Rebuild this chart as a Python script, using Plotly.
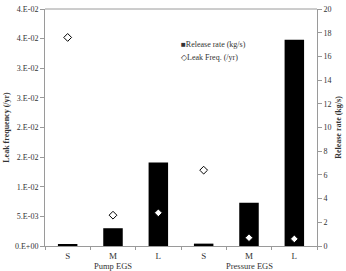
import plotly.graph_objects as go

groups = ["Pump EGS"] * 3 + ["Pressure EGS"] * 3
sizes = ["S", "M", "L", "S", "M", "L"]
release_rate = [0.1, 1.5, 7.05, 0.2, 3.65, 17.4]
leak_freq = [0.0352, 0.0052, 0.0056, 0.0128, 0.0014, 0.0012]

left_ticks = [0, 0.005, 0.01, 0.015, 0.02, 0.025, 0.03, 0.035, 0.04]
left_ticktext = ["0.E+00", "5.E-03", "1.E-02", "2.E-02", "2.E-02", "3.E-02", "3.E-02", "4.E-02", "4.E-02"]
right_ticks = [0, 2, 4, 6, 8, 10, 12, 14, 16, 18, 20]

bar_name = "Release rate (kg/s)"
freq_name = "Leak Freq. (/yr)"

font = "Liberation Serif"
grey = "#9a9a9a"
txt = "#333"

xpos = list(range(len(sizes)))

fig = go.Figure()
fig.add_trace(go.Bar(
    x=xpos, y=release_rate, name=bar_name,
    marker=dict(color="black", line=dict(width=0)), width=0.43, yaxis="y",
))
fig.add_trace(go.Scatter(
    x=xpos, y=leak_freq, name=freq_name, mode="markers",
    marker=dict(symbol="diamond", size=6, color="white", line=dict(color="black", width=1)),
    yaxis="y2",
))

# group labels centred under their categories
group_annots = []
seen = []
for g in groups:
    if g not in seen:
        seen.append(g)
for g in seen:
    idx = [i for i, gg in enumerate(groups) if gg == g]
    group_annots.append(dict(text=g, xref="x", yref="paper", x=sum(idx) / len(idx), y=(246 - 266) / 241,
                             xanchor="center", yanchor="middle", showarrow=False,
                             font=dict(size=8.5, family=font, color=txt)))

fig.update_layout(
    width=346, height=271,
    margin=dict(l=44, r=26, t=5, b=25),
    paper_bgcolor="white", plot_bgcolor="white",
    font=dict(family=font, size=9, color=txt),
    showlegend=False,
    xaxis=dict(range=[-0.5, len(sizes) - 0.5], tickvals=xpos, ticktext=sizes, showline=True,
               linecolor=grey, ticks="", ticklabelstandoff=1,
               minor=dict(tickvals=[i - 0.5 for i in range(len(sizes) + 1)], ticks="outside",
                          ticklen=3, tickcolor=grey, showgrid=False),
               tickfont=dict(size=9, family=font, color=txt),
               showgrid=False, zeroline=False, fixedrange=True),
    yaxis=dict(side="right", range=[0, 20], tickvals=right_ticks, showline=True,
               linecolor=grey, ticks="outside", tickcolor=grey, ticklen=4,
               showgrid=False, zeroline=False, tickfont=dict(size=8, family=font, color=txt),
               title=dict(text="<b>" + bar_name + "</b>", font=dict(size=8, family=font, color=txt), standoff=4)),
    yaxis2=dict(side="left", overlaying="y", range=[0, 0.04], tickvals=left_ticks,
                ticktext=left_ticktext, showline=True, linecolor=grey, ticks="outside",
                tickcolor=grey, ticklen=4, showgrid=False, zeroline=False,
                tickfont=dict(size=8, family=font, color=txt),
                title=dict(text="<b>Leak frequency (/yr)</b>", font=dict(size=8, family=font, color=txt), standoff=4)),
    shapes=[dict(type="line", xref="paper", yref="paper", x0=0, x1=1, y0=1, y1=1,
                 line=dict(color=grey, width=1))],
    annotations=[
        dict(text="■" + bar_name, xref="paper", yref="paper", x=(180 - 44) / 276, y=(246 - 41) / 241,
             xanchor="left", yanchor="middle", showarrow=False, font=dict(size=8, family=font, color=txt)),
        dict(text="◇" + freq_name, xref="paper", yref="paper", x=(180 - 44) / 276, y=(246 - 54) / 241,
             xanchor="left", yanchor="middle", showarrow=False, font=dict(size=8, family=font, color=txt)),
    ] + group_annots,
)

fig.write_html("out.html")
